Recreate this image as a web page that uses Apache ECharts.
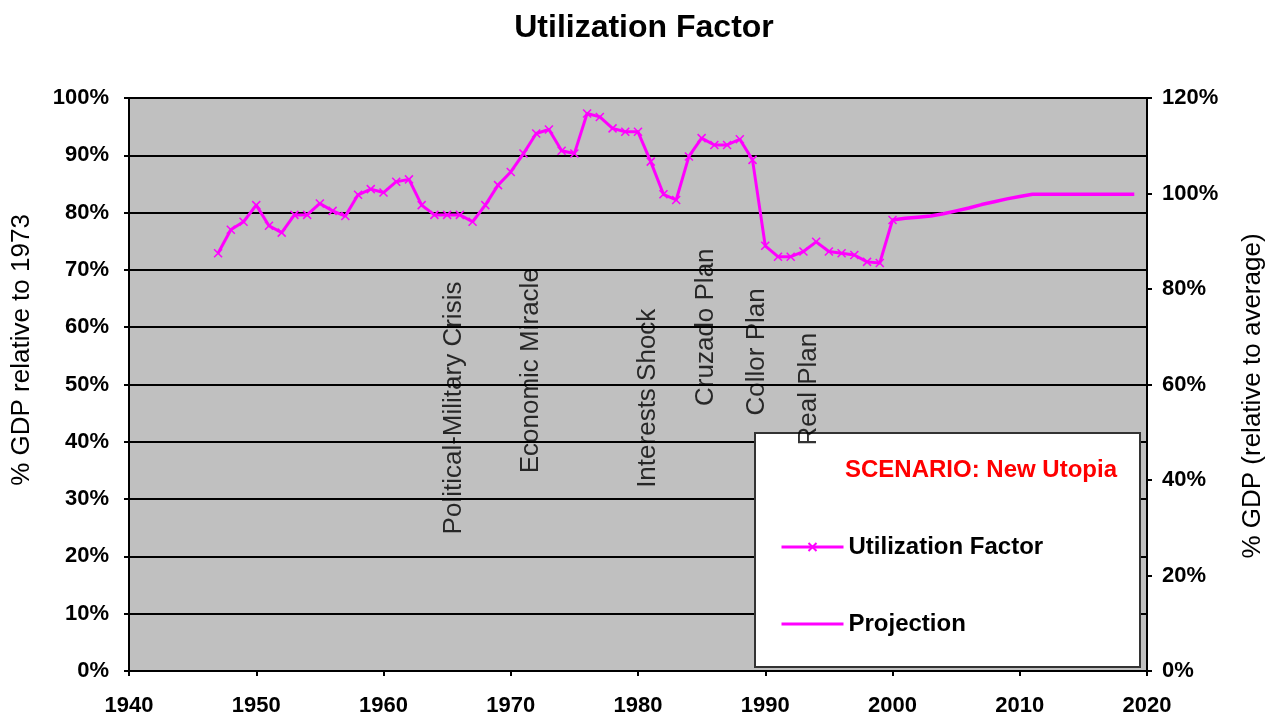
<!DOCTYPE html>
<html>
<head>
<meta charset="utf-8">
<title>Utilization Factor</title>
<script src="https://cdn.jsdelivr.net/npm/echarts@6/dist/echarts.min.js"></script>
<style>
  html, body { margin: 0; padding: 0; background: #fff; }
  #chart { width: 1277px; height: 721px; }
</style>
</head>
<body>
<div id="chart"></div>
<script>
// historical series, one point per year
var utilYears = [1947, 1948, 1949, 1950, 1951, 1952, 1953, 1954, 1955, 1956,
    1957, 1958, 1959, 1960, 1961, 1962, 1963, 1964, 1965, 1966,
    1967, 1968, 1969, 1970, 1971, 1972, 1973, 1974, 1975, 1976,
    1977, 1978, 1979, 1980, 1981, 1982, 1983, 1984, 1985, 1986,
    1987, 1988, 1989, 1990, 1991, 1992, 1993, 1994, 1995, 1996,
    1997, 1998, 1999, 2000];
var utilValues = [72.9, 77.0, 78.4, 81.3, 77.7, 76.5, 79.6, 79.6, 81.6, 80.3,
    79.4, 83.1, 84.1, 83.5, 85.4, 85.8, 81.3, 79.6, 79.6, 79.6,
    78.4, 81.3, 84.8, 87.1, 90.3, 93.8, 94.5, 90.8, 90.3, 97.3,
    96.7, 94.7, 94.1, 94.1, 88.9, 83.2, 82.2, 89.8, 93.0, 91.8,
    91.8, 92.8, 89.2, 74.2, 72.3, 72.3, 73.2, 74.9, 73.2, 72.9,
    72.6, 71.4, 71.2, 78.7];

// projection (no markers)
var projYears = [2000, 2001, 2002, 2003, 2004, 2005, 2006, 2007, 2008, 2009,
    2010, 2011, 2012, 2013, 2014, 2015, 2016, 2017, 2018, 2019];
var projValues = [78.7, 79.0, 79.2, 79.4, 79.8, 80.3, 80.8, 81.4, 81.9, 82.4,
    82.8, 83.2, 83.2, 83.2, 83.2, 83.2, 83.2, 83.2, 83.2, 83.2];

// event labels (centre of the vertical text, in data units)
var eventLabels = ['Political-Military Crisis', 'Economic Miracle', 'Interests Shock',
    'Cruzado Plan', 'Collor Plan', 'Real Plan'];
var eventYears = [1965.5, 1971.6, 1980.8, 1985.3, 1989.3, 1993.4];
var eventLevels = [45.9, 52.4, 47.6, 60.0, 55.7, 49.2];

var MAGENTA = '#FF00FF';
var FONT = '"Liberation Sans", Arial, sans-serif';
var CROSS = 'path://M0,0L10,10M10,0L0,10';
// plain bar for the projection legend entry (moves keep the box 62x10)
var BAR_ICON = 'path://M0,0M0,3.5L62,3.5L62,6.5L0,6.5ZM62,10';

function pairs(xs, ys) {
    return xs.map(function (x, i) { return [x, ys[i]]; });
}

var chart = echarts.init(document.getElementById('chart'));

var axisLabelStyle = {
    color: '#000',
    fontFamily: FONT,
    fontWeight: 'bold',
    fontSize: 22
};

chart.setOption({
    animation: false,
    backgroundColor: '#fff',
    title: {
        text: 'Utilization Factor',
        left: 639,
        top: 7,
        textAlign: 'center',
        textStyle: {color: '#000', fontFamily: FONT, fontWeight: 'bold', fontSize: 32}
    },
    grid: {
        left: 129,
        right: 130,
        top: 98,
        bottom: 50,
        show: true,
        backgroundColor: '#C0C0C0',
        borderColor: '#808080',
        borderWidth: 1
    },
    legend: {
        data: [{name: 'Utilization Factor'}, {name: 'Projection', icon: BAR_ICON}],
        orient: 'vertical',
        left: 780,
        top: 535,
        padding: 0,
        itemWidth: 62,
        itemHeight: 10,
        itemGap: 53,
        z: 10,
        lineStyle: {width: 3},
        textStyle: {color: '#000', fontFamily: FONT, fontWeight: 'bold', fontSize: 24}
    },
    xAxis: {
        type: 'value',
        min: 1940,
        max: 2020,
        interval: 10,
        axisLine: {lineStyle: {color: '#000', width: 2}},
        axisTick: {show: true, length: 5, lineStyle: {color: '#000', width: 2}},
        splitLine: {show: false},
        axisLabel: Object.assign({margin: 24, formatter: function (v) { return String(v); }}, axisLabelStyle)
    },
    yAxis: [{
        type: 'value',
        min: 0,
        max: 100,
        interval: 10,
        axisLine: {show: true, lineStyle: {color: '#000', width: 2}},
        axisTick: {show: true, length: 5, lineStyle: {color: '#000', width: 2}},
        splitLine: {show: true, lineStyle: {color: '#000', width: 2}},
        axisLabel: Object.assign({margin: 20, formatter: '{value}%'}, axisLabelStyle)
    }, {
        type: 'value',
        min: 0,
        max: 120,
        interval: 20,
        position: 'right',
        axisLine: {show: true, lineStyle: {color: '#000', width: 2}},
        axisTick: {show: true, length: 5, lineStyle: {color: '#000', width: 2}},
        splitLine: {show: false},
        axisLabel: Object.assign({margin: 15, formatter: '{value}%'}, axisLabelStyle)
    }],
    graphic: [{
        // legend box
        type: 'rect',
        z: 1,
        shape: {x: 755, y: 433, width: 385, height: 234},
        style: {fill: '#fff', stroke: '#333', lineWidth: 2}
    }, {
        type: 'text',
        z: 10,
        x: 981,
        y: 470,
        style: {
            text: 'SCENARIO: New Utopia',
            fill: '#FF0000',
            font: 'bold 24px ' + FONT,
            textAlign: 'center',
            textVerticalAlign: 'middle'
        }
    }, {
        type: 'text',
        x: 22,
        y: 350,
        rotation: Math.PI / 2,
        style: {
            text: '% GDP relative to 1973',
            fill: '#000',
            font: '26px ' + FONT,
            textAlign: 'center',
            textVerticalAlign: 'middle'
        }
    }, {
        type: 'text',
        x: 1253,
        y: 396,
        rotation: Math.PI / 2,
        style: {
            text: '% GDP (relative to average)',
            fill: '#000',
            font: '26px ' + FONT,
            textAlign: 'center',
            textVerticalAlign: 'middle'
        }
    }],
    series: [{
        name: 'Utilization Factor',
        type: 'line',
        data: pairs(utilYears, utilValues),
        symbol: CROSS,
        symbolSize: 8,
        showAllSymbol: true,
        lineStyle: {color: MAGENTA, width: 3},
        itemStyle: {color: MAGENTA, borderColor: MAGENTA, borderWidth: 1.5},
        z: 5
    }, {
        name: 'Projection',
        type: 'line',
        data: pairs(projYears, projValues),
        symbol: 'none',
        lineStyle: {color: MAGENTA, width: 3.5},
        itemStyle: {color: MAGENTA},
        z: 5
    }, {
        name: 'events',
        type: 'scatter',
        silent: true,
        symbolSize: 1,
        itemStyle: {color: 'rgba(0,0,0,0)'},
        z: 6,
        data: eventLabels.map(function (name, i) {
            return {name: name, value: [eventYears[i], eventLevels[i]]};
        }),
        label: {
            show: true,
            position: 'inside',
            rotate: 90,
            formatter: '{b}',
            color: '#000',
            textBorderWidth: 0,
            fontFamily: FONT,
            fontSize: 26
        }
    }]
});
</script>
</body>
</html>
